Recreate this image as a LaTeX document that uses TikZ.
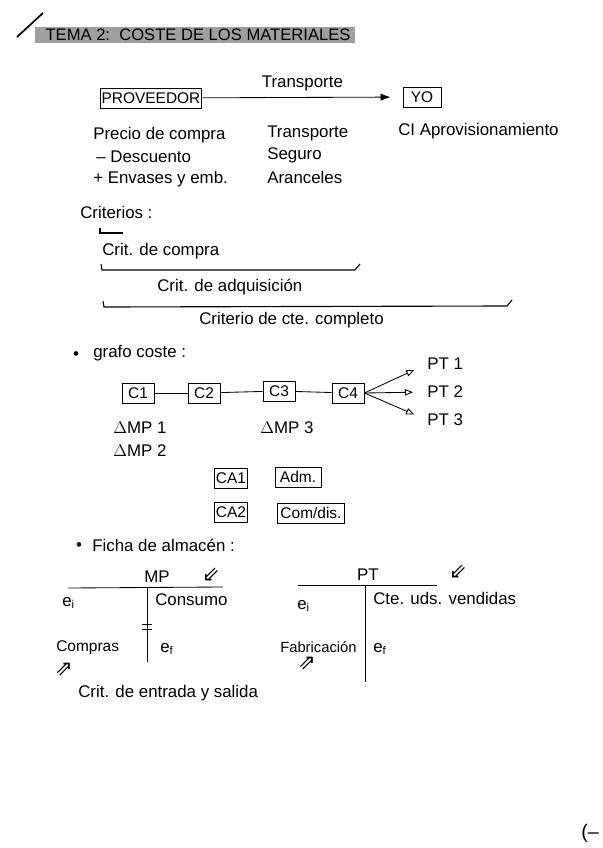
\documentclass[tikz,border=0pt]{standalone}
\usepackage{fontspec}
\setmainfont{Liberation Sans}
\newfontfamily\symfont{DejaVu Sans}
\usetikzlibrary{arrows.meta}
\begin{document}
\begin{tikzpicture}[x=0.25mm,y=-0.25mm,
  box/.style={draw,line width=0.7pt,inner sep=1pt,minimum height=5mm,font=\fontsize{11}{13}\selectfont},
  txt/.style={anchor=west,inner sep=0pt,font=\fontsize{12}{14}\selectfont},
  mid/.style={inner sep=0pt,font=\fontsize{12}{14}\selectfont},
  dbl/.style={inner sep=0pt,font=\symfont\fontsize{15}{17}\selectfont},
  link/.style={line width=0.6pt},
  ptarrow/.style={line width=0.6pt,-{Triangle[open,length=2mm,width=1.6mm]},shorten >=3.5mm},
  brk/.style={line width=0.8pt}]
\useasboundingbox (0,0) rectangle (602,848);

\draw[line width=1.2pt] (17,37) -- (43,13);
\fill[gray!75] (35,27) rectangle (355,43);
\node[mid,font=\fontsize{11.8}{14}\selectfont] (title) at (198,35) {TEMA 2:\ \ COSTE DE LOS MATERIALES};

\node[box,minimum width=22mm] (prov) at (151,98) {PROVEEDOR};
\node[box,minimum width=9.5mm] (yo) at (422,97) {YO};
\draw[link,-{Latex[length=2.5mm]},shorten >=3mm] (prov) -- (yo) node[midway,above=1.5mm,mid] (trtop) {Transporte};

\node[txt] (precio) at (93,135) {Precio de compra};
\node[txt] (desc) at (96,157) {-- Descuento};
\node[txt] (envases) at (93,179) {+ Envases y emb.};
\node[txt] (transp) at (267,133) {Transporte};
\node[txt] (seguro) at (267,155) {Seguro};
\node[txt] (aranc) at (267,177) {Aranceles};
\node[txt] (aprov) at (398,131) {CI Aprovisionamiento};

\node[txt] (criterios) at (80,212) {Criterios :};
\draw[brk] (100,228) -- (100,233) -- (123,233);
\node[txt] (compra) at (102,251) {Crit. de compra};
\draw[brk] (101,264) -- (102,270) -- (355,270) -- (360,264);
\node[txt] (adq) at (157,287) {Crit. de adquisición};
\draw[brk] (103,301) -- (104,307) -- (507,306) -- (512,300);
\node[txt] (completo) at (199,320) {Criterio de cte. completo};

\node[mid] (bul1) at (76,356) {\textbullet};
\node[txt] (grafo) at (93,353) {grafo coste :};
\node[box,minimum width=8mm] (c1) at (138,393) {C1};
\node[box,minimum width=8mm] (c2) at (204,393) {C2};
\node[box,minimum width=8mm] (c3) at (279,391) {C3};
\node[box,minimum width=8mm] (c4) at (348,393) {C4};
\draw[link] (c1) -- (c2);
\draw[link] (c2) -- (c3);
\draw[link] (c3) -- (c4);
\node[txt] (pt1) at (427,364) {PT 1};
\node[txt] (pt2) at (427,392) {PT 2};
\node[txt] (pt3) at (427,420) {PT 3};
\draw[ptarrow] (c4.east) -- (pt1.west);
\draw[ptarrow] (c4.east) -- (pt2.west);
\draw[ptarrow] (c4.east) -- (pt3.west);
\node[txt] (mp1) at (113,428) {$\Delta$MP 1};
\node[txt] (mp2) at (113,451) {$\Delta$MP 2};
\node[txt] (mp3) at (260,428) {$\Delta$MP 3};

\node[box,minimum width=8.25mm] (ca1) at (231,478) {CA1};
\node[box,minimum width=11.5mm] (adm) at (298,477) {Adm.};
\node[box,minimum width=8.25mm] (ca2) at (231,512) {CA2};
\node[box,minimum width=16.75mm] (comdis) at (311,513) {Com/dis.};

\node[mid] (bul2) at (79,547) {\textbullet};
\node[txt] (ficha) at (92,545) {Ficha de almacén :};

\node[mid] (mp) at (157,577) {MP};
\draw[link] (68,588) -- (223,587);
\draw[link] (147,588) -- (147,662);
\draw[link] (142,624) -- (152,624);
\draw[link] (142,629) -- (152,629);
\node[dbl] (inmp) at (211,575) {⇙};
\node[txt] (eimp) at (62,603) {e\textsubscript{i}};
\node[txt] (consumo) at (155,600) {Consumo};
\node[txt,font=\fontsize{11}{13}\selectfont] (compras) at (56,648) {Compras};
\node[txt] (efmp) at (160,649) {e\textsubscript{f}};
\node[dbl] (outmp) at (64,670) {⇗};
\node[txt] (entrada) at (78,693) {Crit. de entrada y salida};

\node[mid] (pt) at (368,575) {PT};
\draw[link] (298,585) -- (437,585);
\draw[link] (365,585) -- (365,682);
\node[dbl] (inpt) at (458,572) {⇙};
\node[txt] (eipt) at (297,606) {e\textsubscript{i}};
\node[txt] (vendidas) at (373,598) {Cte. uds. vendidas};
\node[txt,font=\fontsize{10.5}{13}\selectfont] (fabric) at (280,647) {Fabricación};
\node[txt] (efpt) at (373,649) {e\textsubscript{f}};
\node[dbl] (outpt) at (307,664) {⇗};

\node[mid,font=\fontsize{14}{16}\selectfont] (cont) at (590,833) {(--};
\end{tikzpicture}
\end{document}
